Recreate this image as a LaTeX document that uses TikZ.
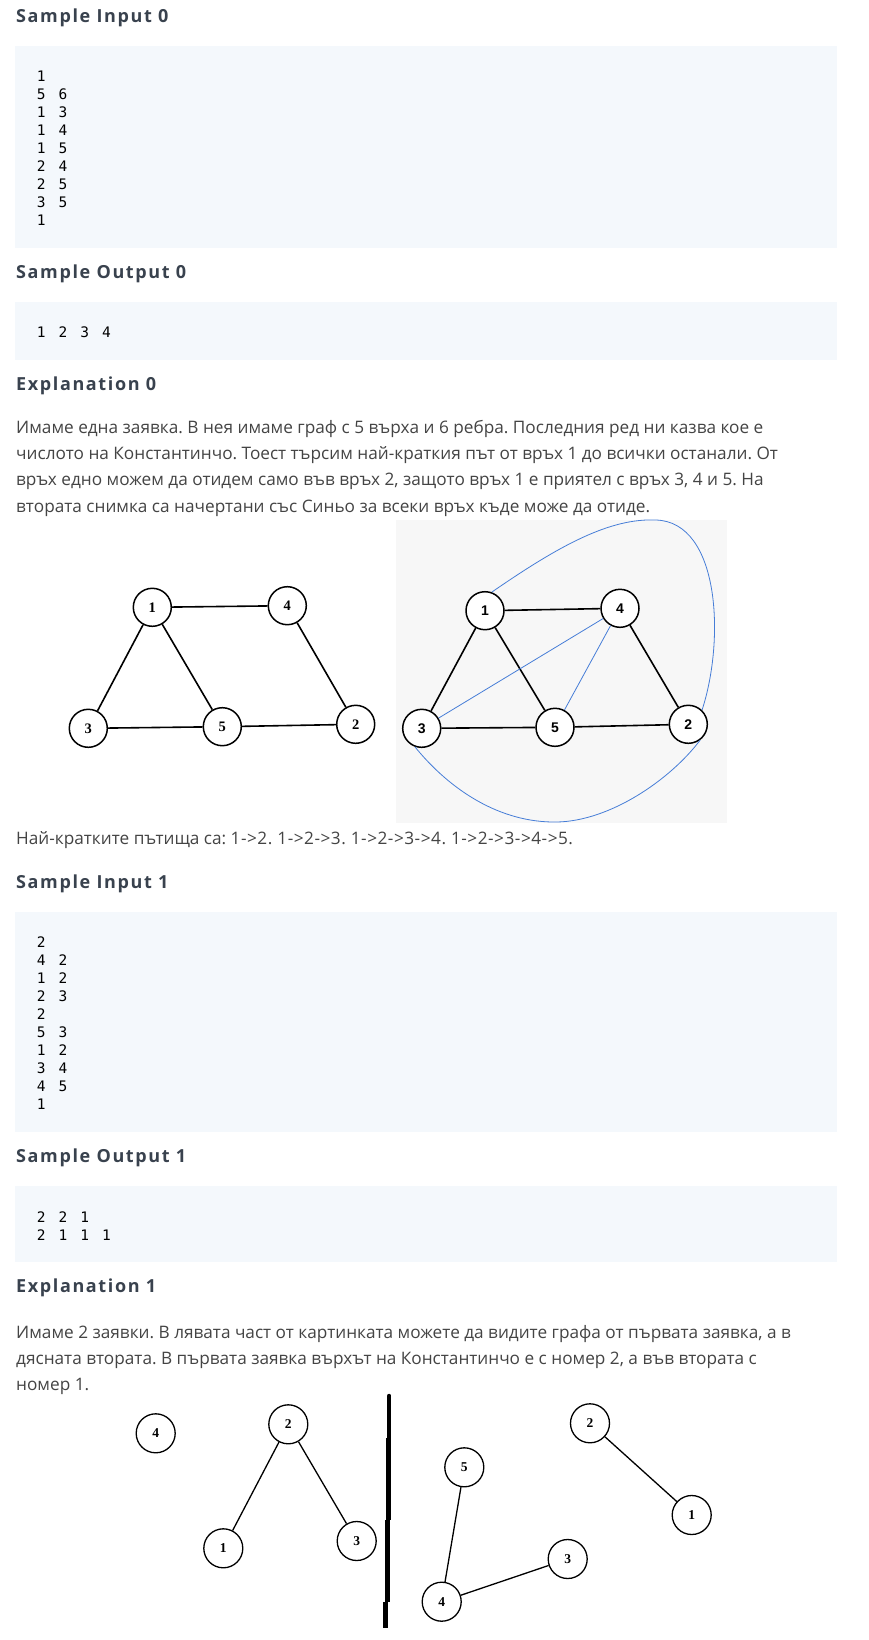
\documentclass[tikz,border=0pt]{standalone}
\usepackage{fontspec}
\setmainfont{Open Sans}
\newfontfamily\headfont[LetterSpace=9]{Open Sans}
\newfontfamily\codefont[WordSpace=1.49]{DejaVu Sans Mono}
\newfontfamily\labelserif{Liberation Serif}
\newfontfamily\labelsans{Liberation Sans}
\definecolor{headgray}{RGB}{57,66,78}
\definecolor{bodygray}{RGB}{68,68,68}
\definecolor{boxblue}{RGB}{244,248,252}
\definecolor{panelgray}{RGB}{247,247,247}
\definecolor{pathblue}{RGB}{70,125,215}
\frenchspacing

\begin{document}
\begin{tikzpicture}[x=1pt,y=-1pt,
    head/.style={anchor=base west,inner sep=0pt,text=headgray,
      font=\headfont\fontsize{18}{18}\selectfont\bfseries},
    body/.style={anchor=base west,inner sep=0pt,text=bodygray,
      font=\fontsize{17.2}{20}\selectfont},
    code/.style={anchor=base west,inner sep=0pt,text=black,
      font=\codefont\fontsize{14.5}{18}\selectfont},
    codebox/.style={fill=boxblue,draw=none},
    main node/.style={circle,draw,fill=white,line width=1.5pt,minimum size=38pt,
      inner sep=0pt,font=\labelserif\fontsize{14.5}{14}\selectfont\bfseries},
    sans node/.style={main node,font=\labelsans\fontsize{14}{14}\selectfont\bfseries},
    small node/.style={main node,line width=1.3pt,minimum size=39pt,
      font=\labelserif\fontsize{13.5}{13}\selectfont\bfseries},
    thick edge/.style={line width=1.6pt},
    thin edge/.style={line width=1.3pt},
    blue edge/.style={draw=pathblue,line width=0.8pt}]
    \useasboundingbox[fill=white] (0,0) rectangle (868,1640);

    % first sample
    \node[head] (h1) at (16,23) {Sample Input 0};
    \fill[codebox] (15,46) rectangle (837,248);
    \foreach \t [count=\i] in {1,5 6,1 3,1 4,1 5,2 4,2 5,3 5,1}
      \node[code] (in0\i) at (36.7,{81.7+18*(\i-1)}) {\t};
    \node[head] (h2) at (16,278) {Sample Output 0};
    \fill[codebox] (15,302) rectangle (837,360);
    \node[code] (out0) at (36.7,337) {1 2 3 4};
    \node[head] (h3) at (16,390) {Explanation 0};
    \foreach \t [count=\i] in {
      {Имаме една заявка. В нея имаме граф с 5 върха и 6 ребра. Последния ред ни казва кое е},
      {числото на Константинчо. Тоест търсим най-краткия път от връх 1 до всички останали. От},
      {връх едно можем да отидем само във връх 2, защото връх 1 е приятел с връх 3, 4 и 5. На},
      {втората снимка са начертани със Синьо за всеки връх къде може да отиде.}}
      \node[body] (ex0\i) at (16,{433+26.4*(\i-1)}) {\t};

    % left graph
    \node[main node] (l1) at (152.3,607.3) {1};
    \node[main node] (l4) at (287.3,605.7) {4};
    \node[main node] (l3) at (88.3,728.3) {3};
    \node[main node] (l5) at (222.3,726.7) {5};
    \node[main node] (l2) at (355.7,724.3) {2};
    \path[thick edge]
    (l1) edge (l4)
    edge (l3)
    edge (l5)
    (l3) edge (l5)
    (l5) edge (l2)
    (l4) edge (l2);

    % right graph with the blue paths
    \fill[panelgray] (396,520) rectangle (727,823);
    \node[sans node] (r1) at (485,610.7) {1};
    \node[sans node] (r4) at (620,608.3) {4};
    \node[sans node] (r3) at (421.7,728.3) {3};
    \node[sans node] (r5) at (555,727.3) {5};
    \node[sans node] (r2) at (688.3,724.3) {2};
    \path[thick edge]
    (r1) edge (r4)
    edge (r3)
    edge (r5)
    (r3) edge (r5)
    (r5) edge (r2)
    (r4) edge (r2);
    \path[blue edge]
    (r4) edge (r3)
    (r4) edge (r5);
    \draw[blue edge] (r1.70) .. controls (560,545) and (610,518) .. (656,520)
      .. controls (720,522) and (725,640) .. (r2.46);
    \draw[blue edge] (r3.250) .. controls (450,790) and (500,823) .. (557,822)
      .. controls (610,821) and (670,780) .. (r2.-53);

    \node[body] (paths) at (16,844) {Най-кратките пътища са: {\addfontfeature{LetterSpace=3}1->2. 1->2->3. 1->2->3->4. 1->2->3->4->5.}};

    % second sample
    \node[head] (h4) at (16,888) {Sample Input 1};
    \fill[codebox] (15,912) rectangle (837,1132);
    \foreach \t [count=\i] in {2,4 2,1 2,2 3,2,5 3,1 2,3 4,4 5,1}
      \node[code] (in1\i) at (36.7,{947+18*(\i-1)}) {\t};
    \node[head] (h5) at (16,1162) {Sample Output 1};
    \fill[codebox] (15,1186) rectangle (837,1262);
    \node[code] (out11) at (36.7,1222) {2 2 1};
    \node[code] (out12) at (36.7,1240) {2 1 1 1};
    \node[head] (h6) at (16,1292) {Explanation 1};
    \foreach \t [count=\i] in {
      {Имаме 2 заявки. В лявата част от картинката можете да видите графа от първата заявка, а в},
      {дясната втората. В първата заявка върхът на Константинчо е с номер 2, а във втората с},
      {номер 1.}}
      \node[body] (ex1\i) at (16,{1338+26.4*(\i-1)}) {\t};

    % first query
    \node[small node] (a4) at (155.7,1433.3) {4};
    \node[small node] (a2) at (288.3,1424.3) {2};
    \node[small node] (a1) at (223.3,1548.3) {1};
    \node[small node] (a3) at (356.7,1541) {3};
    \path[thin edge]
    (a2) edge (a1)
    edge (a3);

    % dividing stroke
    \draw[line width=4.5pt,line cap=round] (389.2,1396)--(389.2,1438);
    \draw[line width=4.5pt] (388.3,1438)--(388.3,1520);
    \draw[line width=4.5pt] (387.3,1520)--(387.3,1602);
    \draw[line width=4.5pt] (385.3,1602)--(385.3,1628);

    % second query
    \node[small node] (b2) at (590,1423.3) {2};
    \node[small node] (b1) at (691.7,1515) {1};
    \node[small node] (b5) at (464.3,1467.3) {5};
    \node[small node] (b3) at (567.7,1559) {3};
    \node[small node] (b4) at (441.7,1601.7) {4};
    \path[thin edge]
    (b2) edge (b1)
    (b5) edge (b4)
    (b4) edge (b3);
\end{tikzpicture}
\end{document}
